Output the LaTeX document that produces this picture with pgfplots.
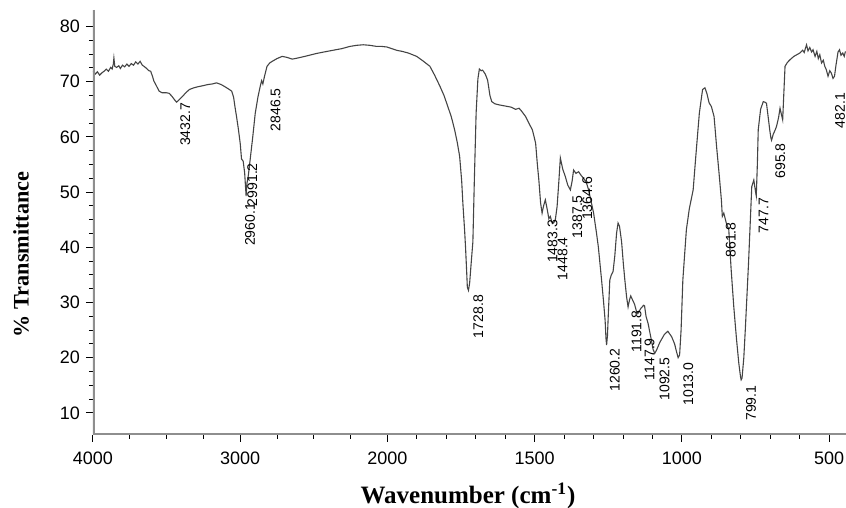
\documentclass[border=0pt]{standalone}
\usepackage{fontspec}
\setmainfont{Liberation Sans}
\newfontfamily\labelfont{Liberation Serif}
\usepackage{pgfplots}
\pgfplotsset{compat=1.18}
\definecolor{curve}{HTML}{444444}
\definecolor{axisgray}{HTML}{8E8E8E}
\tikzset{peak/.style={rotate=90, anchor=north east, inner sep=0pt, font=\fontsize{7}{8}\selectfont, text=black}}
\begin{document}
\begin{tikzpicture}
\begin{axis}[
  scale only axis,
  width=376.5pt, height=212.5pt,
  x dir=reverse,
  % scale halves above 2000 cm-1, as on the instrument plot
  x coord trafo/.code={\pgfmathparse{(#1>2000)?(2000+(#1-2000)/2):(#1)}},
  xmin=443, xmax=4000, ymin=6, ymax=83,
  axis line style={draw=none},
  xtick={4000,3000,2000,1500,1000,500},
  xticklabels={4000,3000,2000,1500,1000,500},
  minor xtick={3750,3500,3250,2750,2500,2250,1900,1800,1700,1600,1400,1300,1200,1100,900,800,700,600},
  ytick={10,20,...,80},
  minor y tick num=3,
  tick align=outside,
  xtick pos=bottom, ytick pos=left,
  major tick length=3.5pt, minor tick length=2pt,
  tick style={black, line width=0.5pt},
  tick label style={font=\fontsize{9}{10}\selectfont},
  xticklabel style={yshift=-1.5pt},
  yticklabel style={xshift=0.5pt},
  /pgf/number format/assume math mode=true,
  xlabel={\labelfont\bfseries Wavenumber (cm\textsuperscript{-1})},
  ylabel={\labelfont\bfseries \% Transmittance},
  every axis x label/.style={at={(axis description cs:0.498,-0.1435)}, anchor=center, font=\fontsize{12.5}{14}\selectfont},
  every axis y label/.style={at={(axis description cs:-0.0956,0.425)}, anchor=center, rotate=90, font=\fontsize{11.1}{13}\selectfont},
]
\addplot[curve, line width=0.55pt, mark=none] coordinates {
(4000,71.9) (3985,71.4) (3970,71.8) (3955,71.2) (3940,71.6) (3925,71.9)
(3910,72.3) (3895,71.9) (3880,72.6) (3870,72.3) (3862,73.2) (3858,74.3)
(3852,72.8) (3840,72.6) (3825,72.9) (3814,72.4) (3800,73.0) (3785,72.7)
(3770,73.2) (3755,72.8) (3740,73.3) (3725,73.0) (3710,73.6) (3695,73.2)
(3680,73.7) (3665,73.0) (3654,72.8) (3640,72.5) (3620,72.0) (3608,71.9)
(3595,70.9) (3586,70.1) (3570,69.3) (3551,68.3) (3530,68.0) (3500,68.0)
(3482,67.9) (3465,67.4) (3448,66.8) (3432.7,66.3) (3420,66.6) (3405,67.0)
(3390,67.4) (3370,68.0) (3345,68.6) (3315,68.9) (3287,69.1) (3250,69.3)
(3219,69.5) (3190,69.6) (3161,69.8) (3130,69.5) (3104,69.1) (3080,68.7)
(3058,68.3) (3045,67.2) (3036,65.5) (3024,63.5) (3012,61.3) (3000,58.8)
(2991.2,56.0) (2980,55.6) (2970,53.5) (2963,50.5) (2960.1,49.3) (2955,51.5)
(2945,53.0) (2933,55.8) (2915,60.0) (2898,64.3) (2880,67.2) (2864,69.2)
(2855,70.2) (2846.5,69.6) (2835,71.0) (2818,72.8) (2800,73.4) (2783,73.7)
(2750,74.2) (2715,74.6) (2680,74.4) (2646,74.1) (2610,74.3) (2577,74.5)
(2530,74.8) (2486,75.1) (2430,75.4) (2371,75.7) (2310,76.0) (2256,76.4)
(2210,76.6) (2165,76.7) (2120,76.6) (2073,76.4) (2040,76.4) (2004,76.3)
(1985,76.0) (1969,75.7) (1950,75.5) (1929,75.2) (1915,74.9) (1901,74.6)
(1880,73.8) (1856,72.8) (1840,71.2) (1822,69.2) (1808,67.5) (1795,65.5)
(1783,63.6) (1772,61.3) (1763,59.0) (1755,56.5) (1748,52.0) (1744,48.0)
(1738,43.0) (1735,40.1) (1731,35.5) (1728.8,32.8) (1725,32.2) (1721,33.5)
(1716,37.0) (1710,41.0) (1705,52.2) (1699,64.3) (1693,70.5) (1688,72.3)
(1682,72.0) (1677,72.1) (1668,71.4) (1660,70.3) (1652,67.5) (1646,66.4)
(1635,66.0) (1620,65.8) (1600,65.6) (1580,65.4) (1565,65.0) (1553,65.2)
(1545,64.7) (1531,63.7) (1520,62.5) (1508,61.3) (1497,58.9) (1491,55.0)
(1486,52.2) (1480,48.0) (1475,46.2) (1470,47.5) (1464,48.6) (1458,47.0)
(1452,45.2) (1447,45.6) (1442,44.6) (1436,44.4) (1430,45.0) (1424,47.4)
(1418,52.0) (1413,56.2) (1405,54.2) (1396,52.8) (1388,51.3) (1379,50.4)
(1373,52.0) (1368,54.0) (1360,53.4) (1351,53.7) (1342,53.0) (1334,52.5)
(1325,51.8) (1317,50.4) (1300,46.2) (1290,42.5) (1284,40.1) (1273,34.1)
(1266,30.0) (1261,26.8) (1258,23.5) (1256,22.3) (1253,24.0) (1250,28.0)
(1245,34.1) (1240,35.0) (1234,35.6) (1228,38.5) (1222,42.6) (1217,44.4)
(1212,43.8) (1205,41.0) (1199,37.0) (1194,34.1) (1188,31.0) (1183,29.2)
(1178,30.5) (1174,31.2) (1168,30.5) (1161,29.7) (1155,28.5) (1150,28.0)
(1139,29.0) (1130,29.5) (1127,29.4) (1122,27.5) (1115,26.2) (1105,23.5)
(1098,21.5) (1092.5,20.8) (1087,21.3) (1075,22.8) (1060,24.2) (1048,24.8)
(1035,23.8) (1025,22.5) (1018,21.0) (1013,20.0) (1008,20.5) (1003,25.0)
(997,34.1) (985,43.2) (975,47.0) (962,50.4) (953,56.5) (941,64.3)
(930,68.6) (922,68.9) (915,67.8) (908,66.2) (900,65.5) (891,63.7)
(882,58.0) (874,53.4) (866,48.5) (863,45.6) (858,46.2) (850,44.5)
(841,43.2) (833,36.0) (824,29.2) (815,23.5) (807,19.0) (801,16.5)
(799,16.0) (796,16.3) (790,20.0) (785,25.0) (774,37.1) (763,51.0)
(756,52.2) (750,50.0) (747.7,49.3) (744,55.0) (741,61.3) (733,65.0)
(724,66.4) (718,66.3) (713,66.1) (707,63.5) (702,61.3) (698,59.8)
(695.8,59.4) (690,60.5) (684,61.2) (679,61.9) (672,63.5) (667,65.2)
(662,64.0) (658,63.1) (654,68.0) (650,72.8) (642,73.5) (633,74.0)
(620,74.6) (610,74.9) (600,75.2) (590,75.7) (585,75.3) (577,76.7)
(572,75.6) (566,76.2) (560,75.4) (555,75.8) (548,74.6) (542,75.5)
(537,74.2) (532,74.9) (526,73.4) (520,73.9) (515,72.8) (510,72.2)
(504,71.0) (498,72.0) (493,71.6) (487,70.6) (482,71.0) (477,73.0)
(470,75.4) (465,75.8) (460,74.8) (454,75.2) (449,74.6) (445,75.5)
};
\node[peak] at (axis cs:3409,66.2) {3432.7};
\node[peak] at (axis cs:2955,55.3) {2991.2};
\node[peak] at (axis cs:2969,48.1) {2960.1};
\node[peak] at (axis cs:2797,68.9) {2846.5};
\node[peak] at (axis cs:1710,31.4) {1728.8};
\node[peak] at (axis cs:1458,45.0) {1483.3};
\node[peak] at (axis cs:1424,41.9) {1448.4};
\node[peak] at (axis cs:1374,49.5) {1387.5};
\node[peak] at (axis cs:1340,52.8) {1364.6};
\node[peak] at (axis cs:1246,21.7) {1260.2};
\node[peak] at (axis cs:1172,28.6) {1191.8};
\node[peak] at (axis cs:1128,23.6) {1147.9};
\node[peak] at (axis cs:1077,20.1) {1092.5};
\node[peak] at (axis cs:997,19.2) {1013.0};
\node[peak] at (axis cs:852,44.6) {861.8};
\node[peak] at (axis cs:784,15.0) {799.1};
\node[peak] at (axis cs:741,49.0) {747.7};
\node[peak] at (axis cs:684,58.9) {695.8};
\node[peak] at (axis cs:481,68.0) {482.1};
\draw[axisgray, line width=2pt] (axis description cs:0,1) -- (axis description cs:0,0) -- (axis description cs:1,0);
\end{axis}
\pgfresetboundingbox
\path[use as bounding box] (-46.5pt,-36.5pt) rectangle (376.5pt,217.5pt);
\end{tikzpicture}
\end{document}
